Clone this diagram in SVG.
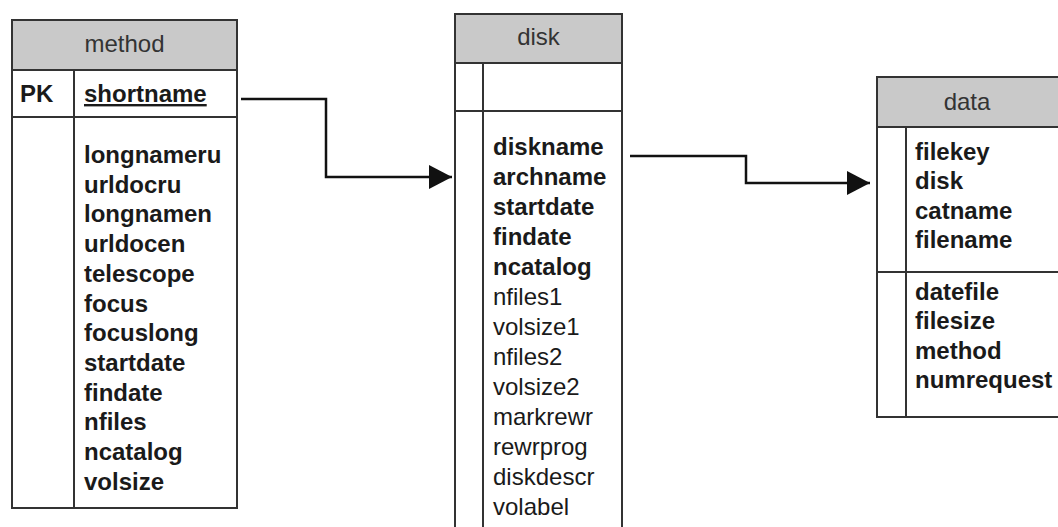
<svg xmlns="http://www.w3.org/2000/svg" width="1058" height="527" viewBox="0 0 1058 527">
<defs>
<style>
.box{fill:#fff;stroke:#333;stroke-width:2}
.hdr{fill:#c9c9c9;stroke:#333;stroke-width:2}
.ln{stroke:#333;stroke-width:2;fill:none}
.t{font-family:"Liberation Sans",Arial,sans-serif;font-size:24px;fill:#1a1a1a}
.b{font-weight:bold}
.h{text-anchor:middle;fill:#333}
.con{stroke:#111;stroke-width:2.5;fill:none}
</style>
<marker id="arr" markerUnits="userSpaceOnUse" markerWidth="24" markerHeight="24" refX="23" refY="12" orient="auto">
<path d="M0,0 L23,12 L0,24 Z" fill="#111"/>
</marker>
</defs>
<rect width="1058" height="527" fill="#fff"/>
<g id="method">
<rect class="box" x="12" y="20" width="225" height="488"/>
<rect class="hdr" x="12" y="20" width="225" height="50"/>
<line class="ln" x1="12" y1="117" x2="237" y2="117"/>
<line class="ln" x1="74" y1="70" x2="74" y2="508"/>
<text class="t h" x="124.5" y="52">method</text>
<text class="t b" x="20" y="102">PK</text>
<text class="t b" x="84" y="102" text-decoration="underline">shortname</text>
<text class="t b" x="84" y="163">longnameru</text>
<text class="t b" x="84" y="192.7">urldocru</text>
<text class="t b" x="84" y="222.4">longnamen</text>
<text class="t b" x="84" y="252.1">urldocen</text>
<text class="t b" x="84" y="281.8">telescope</text>
<text class="t b" x="84" y="311.5">focus</text>
<text class="t b" x="84" y="341.2">focuslong</text>
<text class="t b" x="84" y="370.9">startdate</text>
<text class="t b" x="84" y="400.6">findate</text>
<text class="t b" x="84" y="430.3">nfiles</text>
<text class="t b" x="84" y="460">ncatalog</text>
<text class="t b" x="84" y="489.7">volsize</text>
</g>
<g id="disk">
<rect class="box" x="455" y="14" width="167" height="530"/>
<rect class="hdr" x="455" y="14" width="167" height="49"/>
<line class="ln" x1="455" y1="111" x2="622" y2="111"/>
<line class="ln" x1="483" y1="63" x2="483" y2="544"/>
<text class="t h" x="538.5" y="45">disk</text>
<text class="t b" x="493" y="155">diskname</text>
<text class="t b" x="493" y="185">archname</text>
<text class="t b" x="493" y="215">startdate</text>
<text class="t b" x="493" y="245">findate</text>
<text class="t b" x="493" y="275">ncatalog</text>
<text class="t" x="493" y="305">nfiles1</text>
<text class="t" x="493" y="335">volsize1</text>
<text class="t" x="493" y="365">nfiles2</text>
<text class="t" x="493" y="395">volsize2</text>
<text class="t" x="493" y="425">markrewr</text>
<text class="t" x="493" y="455">rewrprog</text>
<text class="t" x="493" y="485">diskdescr</text>
<text class="t" x="493" y="515">volabel</text>
</g>
<g id="data">
<rect class="box" x="877" y="77" width="200" height="340"/>
<rect class="hdr" x="877" y="77" width="200" height="50"/>
<line class="ln" x1="877" y1="272" x2="1077" y2="272"/>
<line class="ln" x1="906" y1="127" x2="906" y2="417"/>
<text class="t h" x="967" y="110">data</text>
<text class="t b" x="915" y="160">filekey</text>
<text class="t b" x="915" y="189">disk</text>
<text class="t b" x="915" y="218.5">catname</text>
<text class="t b" x="915" y="248">filename</text>
<text class="t b" x="915" y="300">datefile</text>
<text class="t b" x="915" y="329">filesize</text>
<text class="t b" x="915" y="358.5">method</text>
<text class="t b" x="915" y="388">numrequest</text>
</g>
<g id="connectors">
<polyline class="con" points="241,99 326,99 326,177 452,177" marker-end="url(#arr)"/>
<polyline class="con" points="630,156 746,156 746,183 870,183" marker-end="url(#arr)"/>
</g>
</svg>
